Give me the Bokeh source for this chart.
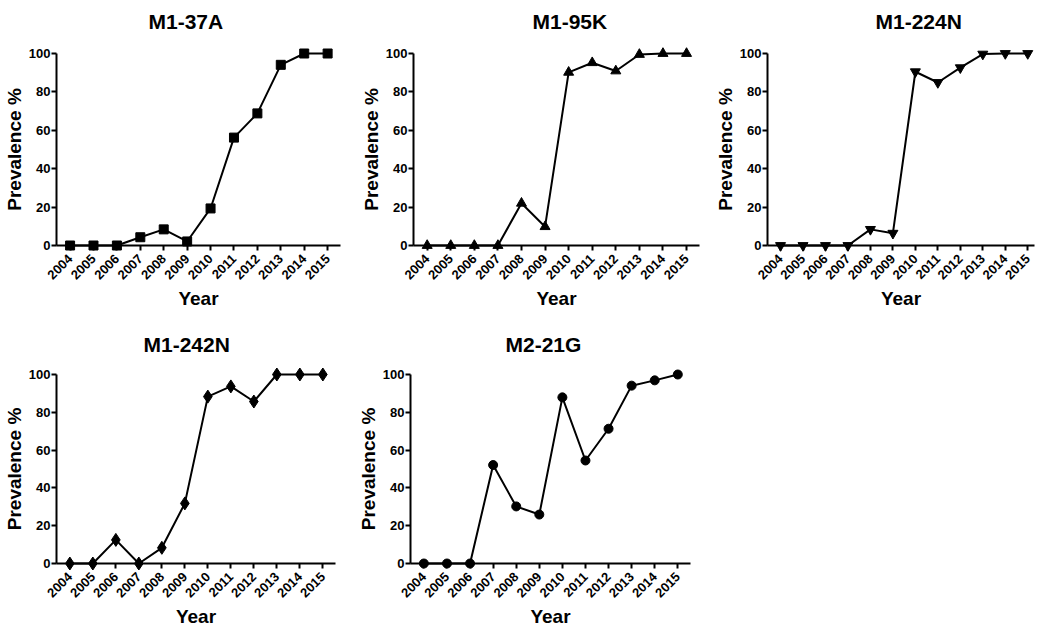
from math import pi
from bokeh.plotting import figure
from bokeh.layouts import column, row
from bokeh.models import Range1d, FixedTicker, Title
from bokeh.embed import file_html
from bokeh.resources import INLINE

years = [2004, 2005, 2006, 2007, 2008, 2009, 2010, 2011, 2012, 2013, 2014, 2015]
year_labels = [str(y) for y in years]
y_ticks = [0, 20, 40, 60, 80, 100]

m1_37a = [0, 0, 0, 4.3, 8.4, 2.1, 19.3, 56.2, 68.8, 94.1, 100, 100]
m1_95k = [0, 0, 0, 0, 22.0, 9.8, 90.2, 95.2, 90.9, 99.5, 100, 100]
m1_224n = [0, 0, 0, 0, 8.4, 6.4, 90.5, 84.9, 92.6, 99.7, 100, 100]
m1_242n = [0, 0, 12.5, 0, 8.3, 31.8, 88.3, 93.7, 85.7, 100, 100, 100]
m2_21g = [0, 0, 0, 52.1, 30.2, 25.9, 87.9, 54.5, 71.3, 94.1, 96.9, 100]

FONT = "Liberation Sans"


def panel(title, vals, marker, msize, width, height, top, bottom, right,
          toff, gap, xend=2015.55):
    p = figure(width=width, height=height, output_backend="svg", toolbar_location=None,
               x_range=Range1d(2003.42, xend), y_range=Range1d(0, 100),
               min_border_left=46, min_border_right=right, min_border_top=top,
               min_border_bottom=bottom, title=None)
    p.outline_line_color = None
    p.grid.visible = False
    p.background_fill_color = "white"
    p.border_fill_color = "white"

    spacer = Title(text=" ", text_font_size="1px", standoff=gap, text_color="white")
    p.add_layout(spacer, "above")
    t = Title(text=title, text_font=FONT, text_font_size="21px", text_font_style="bold",
              align="left", vertical_align="top", offset=toff, standoff=18,
              text_color="black")
    p.add_layout(t, "above")

    for ax in (p.xaxis[0], p.yaxis[0]):
        ax.axis_line_width = 2
        ax.axis_line_color = "black"
        ax.major_tick_line_width = 2
        ax.major_tick_line_color = "black"
        ax.major_tick_out = 5
        ax.major_tick_in = 0
        ax.minor_tick_line_color = None
        ax.major_label_text_font = FONT
        ax.major_label_text_font_size = "13px"
        ax.major_label_text_font_style = "bold"
        ax.major_label_text_color = "black"
        ax.axis_label_text_font = FONT
        ax.axis_label_text_font_size = "19px"
        ax.axis_label_text_font_style = "bold"
        ax.axis_label_text_color = "black"

    p.xaxis.ticker = FixedTicker(ticks=years)
    p.xaxis.major_label_overrides = {y: s for y, s in zip(years, year_labels)}
    p.xaxis.major_label_orientation = pi / 4
    p.xaxis.major_label_standoff = 6
    p.xaxis.axis_label = "Year"
    p.xaxis.axis_label_standoff = 2
    p.yaxis.ticker = FixedTicker(ticks=y_ticks)
    p.yaxis.major_label_standoff = 1
    p.yaxis.axis_label = "Prevalence %"
    p.yaxis.axis_label_standoff = 1

    p.line(years, vals, line_color="black", line_width=2, level="overlay")
    p.scatter(years, vals, marker=marker, size=msize, fill_color="black",
              line_color="black", level="overlay")
    return p


p1 = panel("M1-37A", m1_37a, "square", 9, 357, 312, 53, 66, 17, 92, 7)
p2 = panel("M1-95K", m1_95k, "triangle", 10, 354, 312, 53, 66, 12, 119, 7)
p3 = panel("M1-224N", m1_224n, "inverted_triangle", 10, 326, 312, 53, 66, 3, 108, 7,
           xend=2015.3)
p4 = panel("M1-242N", m1_242n, "diamond", 13, 354, 318, 62, 66, 19, 87, 5)
p5 = panel("M2-21G", m2_21g, "circle", 9, 348, 318, 62, 66, 12, 95, 5)

layout = column(row(p1, p2, p3), row(p4, p5))
html = file_html(layout, INLINE)
open("out.html", "w").write(html)
